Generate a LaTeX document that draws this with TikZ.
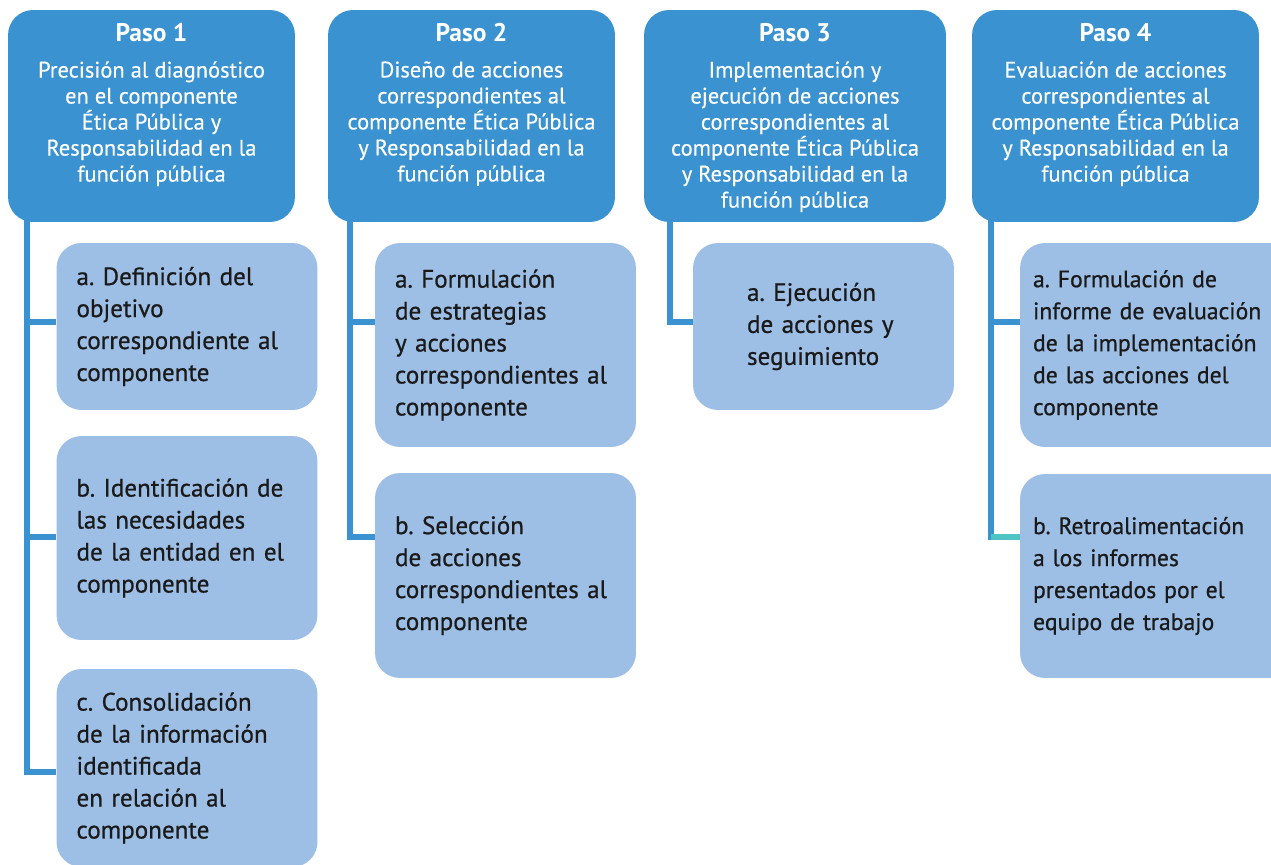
\documentclass[tikz,border=0pt]{standalone}
\usepackage{fontspec}
\setmainfont{PT Sans}
\newfontfamily\subfont[FakeBold=0.7]{PT Sans}
\newfontfamily\headfont[FakeBold=0.3]{PT Sans}
\usepackage{xcolor}
\usetikzlibrary{positioning}
\definecolor{pasoblue}{HTML}{3A93D0}
\definecolor{subblue}{HTML}{9EBFE5}
\definecolor{linkteal}{HTML}{4EC4C4}
\definecolor{subtext}{HTML}{1A1A1A}
\frenchspacing

\begin{document}
\begin{tikzpicture}[x=0.02cm, y=-0.02cm,
    pasobox/.style={rounded corners=0.5cm, fill=pasoblue, minimum width=5.74cm, minimum height=4.24cm},
    pasotitle/.style={text=white, inner sep=0pt, font=\fontsize{14.5}{17}\selectfont\bfseries},
    pasotext/.style={text=white, inner sep=0pt, align=center, anchor=north, font=\headfont\fontsize{12.8}{14.8}\selectfont},
    subbox/.style={rounded corners=0.5cm, fill=subblue, text=subtext, minimum width=5.22cm, inner xsep=0.4cm, text width=4.42cm, align=left, font=\subfont\fontsize{14.3}{18.2}\selectfont},
    narrowbox/.style={subbox, minimum height=4.08cm, inner xsep=0.26cm, text width=5.3cm, font=\subfont\fontsize{13.5}{18.2}\selectfont},
    link/.style={pasoblue, line width=0.12cm},
]
    \clip (0,0) rectangle (1271,865);

    % levels of the side connectors
    \coordinate (lvA) at (0,322);
    \coordinate (lvB) at (0,537);
    \coordinate (lvC) at (0,772);

    % Paso boxes
    \node[pasobox] (p1) at (151.5,116) {};
    \node[pasobox] (p2) at (471.5,116) {};
    \node[pasobox, minimum width=6.04cm] (p3) at (795,116) {};
    \node[pasobox] (p4) at (1115.5,116) {};

    \node[pasotitle] (t1) at (151.5,33) {Paso 1};
    \node[pasotitle] (t2) at (471.5,33) {Paso 2};
    \node[pasotitle] (t3) at (795,33) {Paso 3};
    \node[pasotitle] (t4) at (1115.5,33) {Paso 4};

    \node[pasotext] (d1) at (151.5,61) {Precisión al diagnóstico\\en el componente\\Ética Pública y\\Responsabilidad en la\\función pública};
    \node[pasotext] (d2) at (471.5,61) {Diseño de acciones\\correspondientes al\\componente Ética Pública\\y Responsabilidad en la\\función pública};
    \node[pasotext] (d3) at (795,61) {Implementación y\\ejecución de acciones\\correspondientes al\\componente Ética Pública\\y Responsabilidad en la\\función pública};
    \node[pasotext] (d4) at (1115.5,61) {Evaluación de acciones\\correspondientes al\\componente Ética Pública\\y Responsabilidad en la\\función pública};

    % sub-steps
    \node[subbox, minimum height=3.34cm] (a1) at (187,326.5) {a. Definición del\\objetivo\\correspondiente al\\componente};
    \node[subbox, minimum height=4.08cm] (b1) at (187,538) {b. Identificación de\\las necesidades\\de la entidad en el\\componente};
    \node[subbox, minimum height=3.96cm] (c1) at (187,768) {c. Consolidación\\de la información\\identificada\\en relación al\\componente};
    \node[subbox, minimum height=4.08cm] (a2) at (505.5,345) {a. Formulación\\de estrategias\\y acciones\\correspondientes al\\componente};
    \node[subbox, minimum height=4.1cm] (b2) at (505.5,575.5) {b. Selección\\de acciones\\correspondientes al\\componente};
    \node[subbox, minimum height=3.34cm, inner xsep=1.08cm, text width=3.06cm] (a3) at (823.5,326.5) {a. Ejecución\\de acciones y\\seguimiento};
    \node[narrowbox] (a4) at (1165.5,345) {a. Formulación de\\informe de evaluación\\de la implementación\\de las acciones del\\componente};
    \node[narrowbox] (b4) at (1165.5,576) {b. Retroalimentación\\a los informes\\presentados por el\\equipo de trabajo};

    % trunks
    \coordinate (s1) at (27,220);
    \coordinate (s2) at (350,220);
    \coordinate (s3) at (670,220);
    \coordinate (s4) at (991,220);

    \draw[link] (s1) |- (c1.west |- lvC);
    \draw[link] (s1 |- lvA) -- (a1.west |- lvA);
    \draw[link] (s1 |- lvB) -- (b1.west |- lvB);

    \draw[link] (s2) |- (b2.west |- lvB);
    \draw[link] (s2 |- lvA) -- (a2.west |- lvA);

    \draw[link] (s3) |- (a3.west |- lvA);

    \draw[link] (s4) -- ([yshift=-0.06cm]s4 |- lvB);
    \draw[link] (s4 |- lvA) -- (a4.west |- lvA);
    \draw[link, linkteal] (s4 |- lvB) -- (b4.west |- lvB);
\end{tikzpicture}
\end{document}
